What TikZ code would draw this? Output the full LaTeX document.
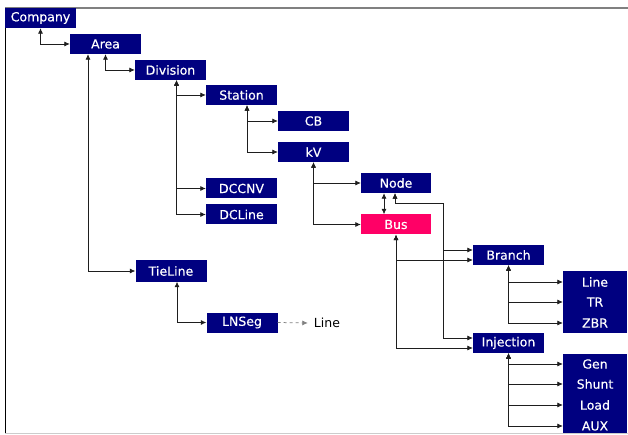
\documentclass[tikz,border=0pt]{standalone}
\usepackage{fontspec}
\setmainfont{DejaVu Sans}
\newfontfamily\bxfont{DejaVu Sans}[UprightFeatures={FakeBold=0.3}]
\usetikzlibrary{arrows.meta,positioning,calc}
\definecolor{fNavy}{RGB}{0,0,128}
\definecolor{fPink}{RGB}{255,0,102}
\definecolor{dLine}{RGB}{30,30,30}

\begin{document}
\begin{tikzpicture}[x=1pt,y=-1pt,
  bx/.style={fill=fNavy,text=white,inner sep=0pt,minimum width=71pt,minimum height=20pt,font=\bxfont\fontsize{12.5}{14}\selectfont},
  grp/.style={fill=fNavy,inner sep=0pt,minimum width=64pt},
  lbl/.style={text=white,inner sep=0pt,font=\bxfont\fontsize{12.5}{14}\selectfont},
  ln/.style={{Latex[length=5.5pt,width=5pt]}-{Latex[length=5.5pt,width=5pt]},dLine,line width=0.75pt},
  dsh/.style={-{Latex[length=5.5pt,width=5pt]},gray,dashed,line width=0.75pt}]
\useasboundingbox (0,0) rectangle (628,435);
% frame
\draw[gray,line width=1.6pt] (5,8) -- (628,8);
\draw[black,line width=0.8pt] (5,8) -- (5,433);
\draw[black!20,line width=0.8pt] (5,433) -- (628,433);
% boxes
\node[bx] (company) at (40.5,18) {Company};
\node[bx] (area) at (105.5,44) {Area};
\node[bx] (division) at (170.5,70) {Division};
\node[bx] (station) at (241.5,95) {Station};
\node[bx] (cb) at (313.5,121) {CB};
\node[bx] (kv) at (313.5,152) {kV};
\node[bx] (dccnv) at (241.5,188.5) {DCCNV};
\node[bx] (dcline) at (241.5,214.5) {DCLine};
\node[bx,minimum width=70pt] (node) at (396,183) {Node};
\node[bx,minimum width=70pt,fill=fPink] (bus) at (396,224.5) {Bus};
\node[bx] (branch) at (508.5,255) {Branch};
\node[bx] (injection) at (508.5,343) {Injection};
\node[bx,minimum height=21pt] (tieline) at (171,271) {TieLine};
\node[bx] (lnseg) at (242,322.5) {LNSeg};
\node[inner sep=0pt,font=\fontsize{12.5}{14}\selectfont] (line) at (327,323) {Line};
% grouped boxes
\node[grp,minimum height=62pt] (brgrp) at (595,302) {};
\node[lbl] (brline) at (595,282) {Line};
\node[lbl] (brtr) at (595,302) {TR};
\node[lbl] (brzbr) at (595,323) {ZBR};
\node[grp,minimum height=79pt] (injgrp) at (595,393.5) {};
\node[lbl] (gen) at (595,364) {Gen};
\node[lbl] (shunt) at (595,384) {Shunt};
\node[lbl] (load) at (595,405) {Load};
\node[lbl] (aux) at (595,426) {AUX};
% links
\draw[ln] (company.south) |- (area.west);
\draw[ln] (area.south) |- (division.west);
\draw[ln] ([xshift=-17.5]area.south) |- (tieline.west);
\foreach \c in {station,dccnv,dcline} \draw[ln] ([xshift=6]division.south) |- (\c.west);
\foreach \c in {cb,kv} \draw[ln] ([xshift=5.5]station.south) |- (\c.west);
\foreach \c in {node,bus} \draw[ln] (kv.south) |- (\c.west);
\draw[ln] ([xshift=-12]node.south) -- ([xshift=-12]bus.north);
\coordinate (nj) at (443,203);
\foreach \c in {branch,injection} \draw[ln] ([xshift=-1]node.south) |- (nj) |- ([yshift=5]\c.west);
\foreach \c in {branch,injection} \draw[ln] (bus.south) |- ([yshift=-5]\c.west);
\foreach \c in {brline,brtr,brzbr} \draw[ln] (branch.south) |- (brgrp.west |- \c);
\foreach \c in {gen,shunt,load,aux} \draw[ln] (injection.south) |- (injgrp.west |- \c);
\draw[ln] ([xshift=6]tieline.south) |- (lnseg.west);
\draw[dsh] (lnseg.east) -- ([xshift=-6]line.west);
\end{tikzpicture}
\end{document}
